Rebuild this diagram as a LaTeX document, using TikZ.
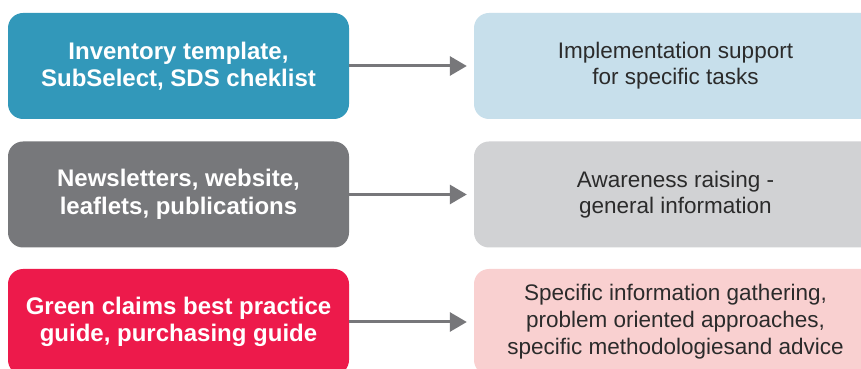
\documentclass[tikz,border=0pt]{standalone}
\usepackage{fontspec}
\setmainfont{Liberation Sans}
\usetikzlibrary{arrows.meta}
\definecolor{cteal}{HTML}{3298BA}
\definecolor{clightblue}{HTML}{C7DFEB}
\definecolor{cdark}{HTML}{77787B}
\definecolor{clightgray}{HTML}{D1D2D4}
\definecolor{cred}{HTML}{ED1A4B}
\definecolor{cpink}{HTML}{F9D0D0}
\definecolor{carrow}{HTML}{77777A}
\definecolor{ctext}{HTML}{2B2B2B}
\tikzset{
  leftbox/.style={rectangle, rounded corners=15pt, minimum width=341pt, minimum height=106pt,
    align=center, text=white, inner sep=0pt, font=\fontsize{24}{27.5}\selectfont\bfseries},
  rightbox/.style={rectangle, rounded corners=15pt, minimum width=403pt, minimum height=106pt,
    align=center, text=ctext, inner sep=0pt, font=\fontsize{22.5}{26}\selectfont},
  conn/.style={draw=carrow, line width=3pt, -{Triangle[length=17pt,width=19pt]}, shorten >=7pt}
}
\begin{document}
\begin{tikzpicture}[x=1pt,y=1pt]
\useasboundingbox (0,0) rectangle (861,369);
\clip (0,0) rectangle (861,369);
\fill[white] (0,0) rectangle (861,369);
\node[leftbox, fill=cteal] (l1) at (178.5,303) {Inventory template,\\SubSelect, SDS cheklist};
\node[leftbox, fill=cdark] (l2) at (178.5,174.5) {Newsletters, website,\\leaflets, publications};
\node[leftbox, fill=cred] (l3) at (178.5,47) {Green claims best practice\\guide, purchasing guide};
\node[rightbox, fill=clightblue] (r1) at (675.5,303) {Implementation support\\for specific tasks};
\node[rightbox, fill=clightgray] (r2) at (675.5,174.5) {Awareness raising -\\general information};
\node[rightbox, fill=cpink, font=\fontsize{22.5}{27}\selectfont] (r3) at (675.5,47) {Specific information gathering,\\problem oriented approaches,\\specific methodologiesand advice};
\draw[conn] (l1.east) -- (r1.west);
\draw[conn] (l2.east) -- (r2.west);
\draw[conn] (l3.east) -- (r3.west);
\end{tikzpicture}
\end{document}
